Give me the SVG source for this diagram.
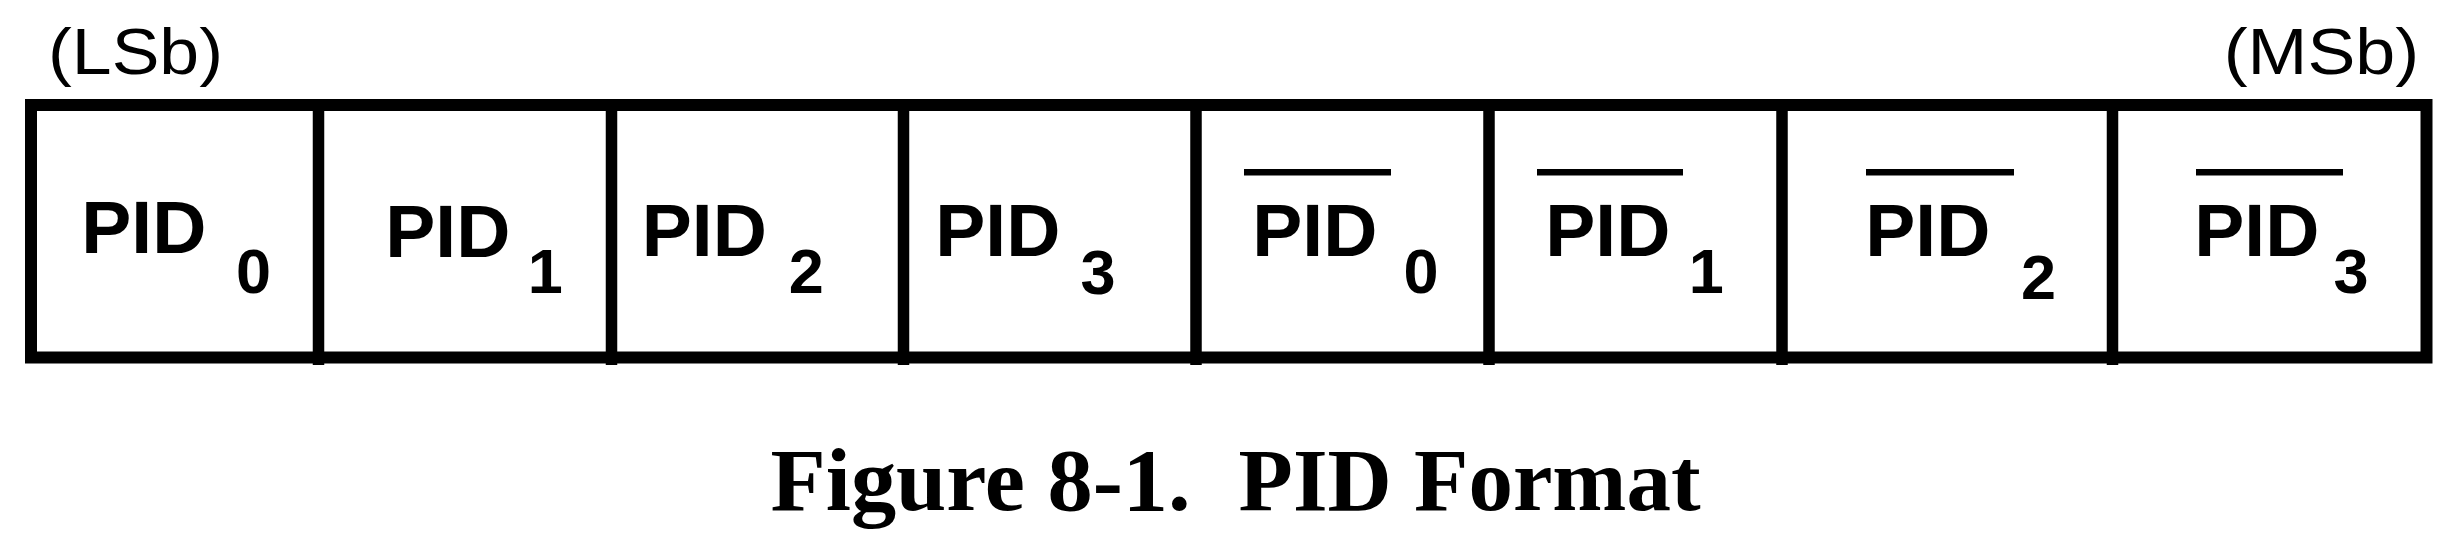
<svg xmlns="http://www.w3.org/2000/svg" width="2446" height="536" viewBox="0 0 2446 536">
<style>
.pid{font-family:"Liberation Sans",Arial,sans-serif;font-weight:bold;font-size:75px;fill:#000}
.sub{font-family:"Liberation Sans",Arial,sans-serif;font-weight:bold;font-size:63px;fill:#000}
.lbl{font-family:"Liberation Sans",Arial,sans-serif;font-size:64px;fill:#000}
.title{font-family:"Liberation Serif","Times New Roman",serif;font-weight:bold;font-size:88px;fill:#000}
.frame{fill:none;stroke:#000;stroke-width:12}
.div{stroke:#000;stroke-width:11.5}
.bar{stroke:#000;stroke-width:6.5}
</style>
<rect width="2446" height="536" fill="#fff"/>
<g id="labels">
<text class="lbl" x="48" y="74" textLength="175" lengthAdjust="spacingAndGlyphs">(LSb)</text>
<text class="lbl" x="2223.7" y="74" textLength="195.5" lengthAdjust="spacingAndGlyphs">(MSb)</text>
</g>
<g id="frame">
<rect class="frame" x="31" y="105" width="2395.5" height="252.5"/>
<line class="div" x1="318.5" y1="105" x2="318.5" y2="365"/>
<line class="div" x1="611.5" y1="105" x2="611.5" y2="365"/>
<line class="div" x1="903.5" y1="105" x2="903.5" y2="365"/>
<line class="div" x1="1196" y1="105" x2="1196" y2="365"/>
<line class="div" x1="1489" y1="105" x2="1489" y2="365"/>
<line class="div" x1="1782" y1="105" x2="1782" y2="365"/>
<line class="div" x1="2112.5" y1="105" x2="2112.5" y2="365"/>
</g>
<g id="cell-pid0"><text class="pid" x="81.3" y="253">PID</text><text class="sub" x="236" y="293">0</text></g>
<g id="cell-pid1"><text class="pid" x="385.3" y="257">PID</text><text class="sub" x="527.7" y="293">1</text></g>
<g id="cell-pid2"><text class="pid" x="641.8" y="256">PID</text><text class="sub" x="788.7" y="293">2</text></g>
<g id="cell-pid3"><text class="pid" x="935.3" y="256">PID</text><text class="sub" x="1080.5" y="294">3</text></g>
<g id="cell-npid0"><line class="bar" x1="1244" y1="172.3" x2="1391" y2="172.3"/><text class="pid" x="1252.3" y="256">PID</text><text class="sub" x="1403.4" y="293">0</text></g>
<g id="cell-npid1"><line class="bar" x1="1537" y1="172.3" x2="1683" y2="172.3"/><text class="pid" x="1545.3" y="256">PID</text><text class="sub" x="1688.7" y="293">1</text></g>
<g id="cell-npid2"><line class="bar" x1="1866" y1="172.3" x2="2014" y2="172.3"/><text class="pid" x="1865.3" y="256">PID</text><text class="sub" x="2021" y="299">2</text></g>
<g id="cell-npid3"><line class="bar" x1="2196" y1="172.3" x2="2343" y2="172.3"/><text class="pid" x="2194.3" y="256">PID</text><text class="sub" x="2333.5" y="293">3</text></g>
<g id="caption">
<text class="title" x="770.6" y="510" textLength="420" lengthAdjust="spacingAndGlyphs">Figure 8-1.</text>
<text class="title" x="1238.6" y="510" textLength="462" lengthAdjust="spacingAndGlyphs">PID Format</text>
</g>
</svg>
